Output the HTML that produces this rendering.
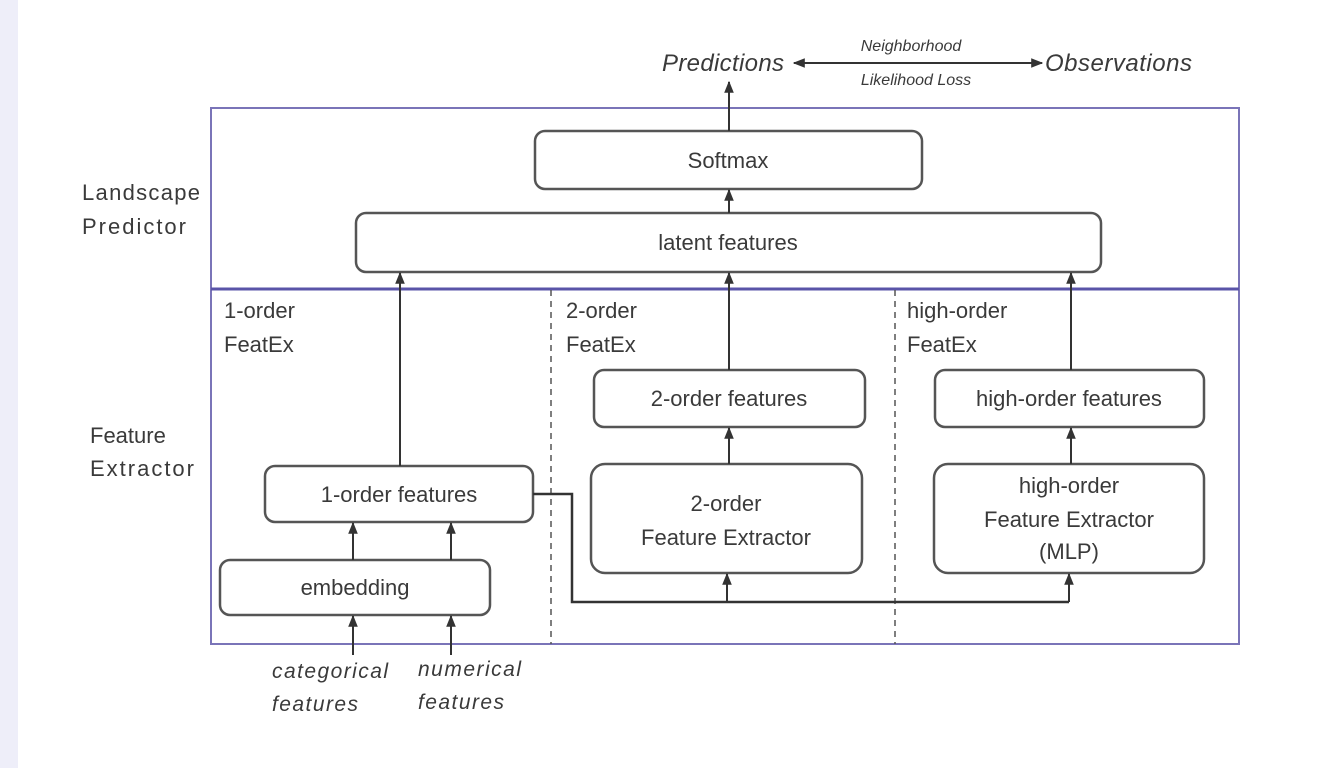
<!DOCTYPE html>
<html><head><meta charset="utf-8"><style>
html,body{margin:0;padding:0;background:#fff;}
svg{display:block;}
text{font-family:"Liberation Sans",sans-serif;fill:#3a3a3a;}
</style></head><body>
<svg width="1344" height="768" viewBox="0 0 1344 768" xmlns="http://www.w3.org/2000/svg">
<defs>
<marker id="a" viewBox="0 0 10 10" refX="9" refY="5" markerWidth="6" markerHeight="6" orient="auto-start-reverse"><path d="M0,1 L10,5 L0,9 z" fill="#333"/></marker>
</defs>
<rect x="0" y="0" width="18" height="768" fill="#eeeef9"/>
<rect x="211" y="108" width="1028" height="536" fill="none" stroke="#7a74b8" stroke-width="2"/>
<line x1="211" y1="289" x2="1239" y2="289" stroke="#5a54a8" stroke-width="3"/>
<line x1="551" y1="290" x2="551" y2="644" stroke="#555" stroke-width="1.5" stroke-dasharray="6,5"/>
<line x1="895" y1="290" x2="895" y2="644" stroke="#555" stroke-width="1.5" stroke-dasharray="6,5"/>
<g fill="#fff" stroke="#555" stroke-width="2.5">
<rect x="535" y="131" width="387" height="58" rx="10"/>
<rect x="356" y="213" width="745" height="59" rx="10"/>
<rect x="594" y="370" width="271" height="57" rx="10"/>
<rect x="935" y="370" width="269" height="57" rx="10"/>
<rect x="265" y="466" width="268" height="56" rx="10"/>
<rect x="220" y="560" width="270" height="55" rx="10"/>
<rect x="591" y="464" width="271" height="109" rx="14"/>
<rect x="934" y="464" width="270" height="109" rx="14"/>
</g>
<g stroke="#333" stroke-width="2" fill="none" marker-end="url(#a)">
<line x1="729" y1="131" x2="729" y2="82"/>
<line x1="729" y1="213" x2="729" y2="190"/>
<line x1="400" y1="466" x2="400" y2="273"/>
<line x1="729" y1="370" x2="729" y2="273"/>
<line x1="1071" y1="370" x2="1071" y2="273"/>
<line x1="729" y1="464" x2="729" y2="428"/>
<line x1="1071" y1="464" x2="1071" y2="428"/>
<line x1="353" y1="560" x2="353" y2="523"/>
<line x1="451" y1="560" x2="451" y2="523"/>
<line x1="353" y1="655" x2="353" y2="616"/>
<line x1="451" y1="655" x2="451" y2="616"/>
<line x1="727" y1="602" x2="727" y2="574"/>
<line x1="1069" y1="602" x2="1069" y2="574"/>
</g>
<polyline points="533,494 572,494 572,602 1069,602" fill="none" stroke="#333" stroke-width="2.5"/>
<line x1="794" y1="63" x2="1042" y2="63" stroke="#333" stroke-width="2" marker-start="url(#a)" marker-end="url(#a)"/>
<g font-size="22" text-anchor="middle">
<text x="728" y="168">Softmax</text>
<text x="728" y="250">latent features</text>
<text x="729" y="406">2-order features</text>
<text x="1069" y="406">high-order features</text>
<text x="399" y="502">1-order features</text>
<text x="355" y="595">embedding</text>
<text x="726" y="511">2-order</text>
<text x="726" y="545">Feature Extractor</text>
<text x="1069" y="493">high-order</text>
<text x="1069" y="527">Feature Extractor</text>
<text x="1069" y="559">(MLP)</text>
</g>
<g font-size="22">
<text x="82" y="200" textLength="118">Landscape</text>
<text x="82" y="234" textLength="104">Predictor</text>
<text x="90" y="443">Feature</text>
<text x="90" y="476" textLength="104">Extractor</text>
<text x="224" y="318">1-order</text>
<text x="224" y="352">FeatEx</text>
<text x="566" y="318">2-order</text>
<text x="566" y="352">FeatEx</text>
<text x="907" y="318">high-order</text>
<text x="907" y="352">FeatEx</text>
</g>
<g font-style="italic">
<text x="662" y="71" font-size="24" textLength="122">Predictions</text>
<text x="1045" y="71" font-size="24" textLength="147">Observations</text>
<text x="911" y="51" font-size="16" text-anchor="middle">Neighborhood</text>
<text x="916" y="85" font-size="16" text-anchor="middle">Likelihood Loss</text>
<text x="272" y="678" font-size="21" textLength="116">categorical</text>
<text x="272" y="711" font-size="21" textLength="86">features</text>
<text x="418" y="676" font-size="21" textLength="103">numerical</text>
<text x="418" y="709" font-size="21" textLength="86">features</text>
</g>
</svg>
</body></html>
